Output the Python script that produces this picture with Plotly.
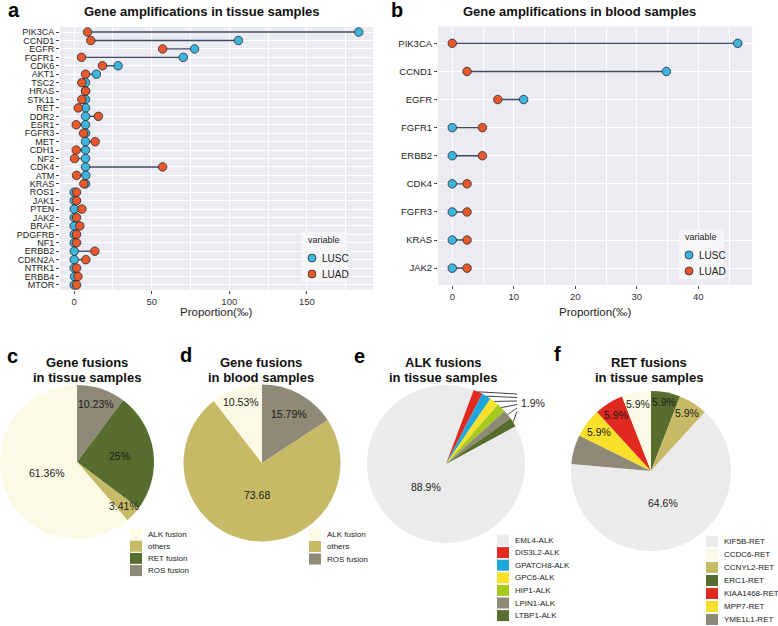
import math
import plotly.graph_objects as go

W, H = 778, 626
FONT = "Liberation Sans, Arial, sans-serif"

# ---------------- data ----------------
tissue_genes = ["PIK3CA", "CCND1", "EGFR", "FGFR1", "CDK6", "AKT1", "TSC2", "HRAS", "STK11", "RET",
                "DDR2", "ESR1", "FGFR3", "MET", "CDH1", "NF2", "CDK4", "ATM", "KRAS", "ROS1",
                "JAK1", "PTEN", "JAK2", "BRAF", "PDGFRB", "NF1", "ERBB2", "CDKN2A", "NTRK1", "ERBB4", "MTOR"]
tissue_lusc = [183.5, 105.9, 77.6, 70.3, 28.3, 14.3, 7.3, 7.3, 7.3, 7.3,
               7.3, 7.3, 7.3, 7.3, 7.3, 7.3, 7.3, 7.5, 7.3, 0.0,
               0.0, 0.0, 0.0, 0.0, 0.0, 0.0, 0.0, 0.0, 0.0, 0.2, 0.0]
tissue_luad = [8.6, 10.7, 57.0, 4.7, 18.2, 7.3, 4.9, 7.3, 4.9, 2.6,
               15.6, 1.3, 6.0, 13.5, 1.3, 0.2, 57.0, 1.5, 6.2, 1.5,
               1.5, 4.9, 1.5, 3.6, 1.5, 1.5, 13.3, 7.5, 1.5, 2.4, 1.5]

blood_genes = ["PIK3CA", "CCND1", "EGFR", "FGFR1", "ERBB2", "CDK4", "FGFR3", "KRAS", "JAK2"]
blood_lusc = [46.4, 34.8, 11.6, 0.0, 0.0, 0.0, 0.0, 0.0, 0.0]
blood_luad = [0.0, 2.4, 7.4, 4.9, 4.9, 2.4, 2.4, 2.4, 2.4]

series_names = ["LUSC", "LUAD"]

fus_tissue_labels = ["ALK fusion", "others", "RET fusion", "ROS fusion"]
fus_tissue_values = [61.36, 3.41, 25.0, 10.23]
fus_tissue_text = ["61.36%", "3.41%", "25%", "10.23%"]

fus_blood_labels = ["ALK fusion", "others", "ROS fusion"]
fus_blood_values = [10.53, 73.68, 15.79]
fus_blood_text = ["10.53%", "73.68", "15.79%"]

alk_labels = ["EML4-ALK", "DIS3L2-ALK", "GPATCH8-ALK", "GPC6-ALK", "HIP1-ALK", "LPIN1-ALK", "LTBP1-ALK"]
alk_values = [88.9, 1.9, 1.9, 1.9, 1.9, 1.9, 1.9]
alk_text = ["88.9%", "1.9%", "1.9%", "1.9%", "1.9%", "1.9%", "1.9%"]

ret_labels = ["KIF5B-RET", "CCDC6-RET", "CCNYL2-RET", "ERC1-RET", "KIAA1468-RET", "MPP7-RET", "YME1L1-RET"]
ret_values = [64.6, 5.9, 5.9, 5.9, 5.9, 5.9, 5.9]
ret_text = ["64.6%", "5.9%", "5.9%", "5.9%", "5.9%", "5.9%", ""]

# ---------------- styles ----------------
C_LUSC = "#3db5df"
C_LUAD = "#e9582c"
C_SEG = "#414b63"
PANEL_BG = "#ebebf2"

fus_colors = {"ALK fusion": "#fcfae4", "others": "#c7ba66", "RET fusion": "#566d2e", "ROS fusion": "#8f8977"}
alk_colors = {"EML4-ALK": "#ebebeb", "DIS3L2-ALK": "#e0291f", "GPATCH8-ALK": "#1ea7da",
              "GPC6-ALK": "#f8e02b", "HIP1-ALK": "#a5c91c", "LPIN1-ALK": "#8f8977", "LTBP1-ALK": "#566d2e"}
ret_colors = {"KIF5B-RET": "#ebebeb", "CCDC6-RET": "#fcfae4", "CCNYL2-RET": "#c7ba66", "ERC1-RET": "#566d2e",
              "KIAA1468-RET": "#e0291f", "MPP7-RET": "#f8e02b", "YME1L1-RET": "#8f8977"}


def px(x):
    return x / W


def py(y):
    return 1 - y / H


fig = go.Figure()
annotations = []
shapes = []


def add_text(x, y, text, size, bold=False, xanchor="center", yanchor="middle", color="#111"):
    annotations.append(dict(x=px(x), y=py(y), xref="paper", yref="paper", showarrow=False,
                            text=f"<b>{text}</b>" if bold else text, xanchor=xanchor, yanchor=yanchor,
                            font=dict(family=FONT, size=size, color=color)))


# ---------------- dumbbell panels ----------------
def dumbbell(genes, lusc, luad, xa, ya, box, ticks, minor, yfont):
    segx, segy = [], []
    for g, a, b in zip(genes, lusc, luad):
        segx += [a, b, None]
        segy += [g, g, None]
    fig.add_trace(go.Scatter(x=segx, y=segy, mode="lines", line=dict(color=C_SEG, width=1.4),
                             xaxis=xa, yaxis=ya, showlegend=False, hoverinfo="skip"))
    for name, vals, col in [("LUSC", lusc, C_LUSC), ("LUAD", luad, C_LUAD)]:
        fig.add_trace(go.Scatter(x=vals, y=genes, mode="markers", name=name, xaxis=xa, yaxis=ya,
                                 marker=dict(size=8.5, color=col, line=dict(color="#2a2a2a", width=0.8)),
                                 showlegend=False))
    allv = list(lusc) + list(luad)
    lo, hi = min(allv), max(allv)
    span = hi - lo
    x0, y0, x1, y1 = box
    axkey = "xaxis" if xa == "x" else "xaxis" + xa[1:]
    aykey = "yaxis" if ya == "y" else "yaxis" + ya[1:]
    n = len(genes)
    fig.update_layout(**{
        axkey: dict(domain=[px(x0), px(x1)], anchor=ya, range=[lo - 0.05 * span, hi + 0.05 * span],
                    tickvals=ticks, ticktext=[str(t) for t in ticks], showgrid=True, gridcolor="white",
                    gridwidth=1.3, zeroline=False, showline=False, ticks="outside", ticklen=3,
                    tickcolor="#444", tickfont=dict(family=FONT, size=9.5, color="#333"),
                    minor=dict(tickvals=minor, showgrid=True, gridcolor="white", gridwidth=0.6, ticks=""),
                    fixedrange=True),
        aykey: dict(domain=[py(y1), py(y0)], anchor=xa, type="category", categoryorder="array",
                    categoryarray=genes, range=[n - 0.4, -0.6], tickmode="array", tickvals=genes,
                    ticktext=genes, showgrid=True, gridcolor="white",
                    gridwidth=1.3, zeroline=False, showline=False, ticks="outside", ticklen=3,
                    tickcolor="#444", tickfont=dict(family=FONT, size=yfont, color="#222"), fixedrange=True),
    })


dumbbell(tissue_genes, tissue_lusc, tissue_luad, "x", "y", (60, 27, 373, 290), [0, 50, 100, 150],
         [25, 75, 125, 175], 9)
dumbbell(blood_genes, blood_lusc, blood_luad, "x2", "y2", (438, 26.5, 752, 285), [0, 10, 20, 30, 40],
         [5, 15, 25, 35, 45], 9.5)

# axis titles
add_text(216, 312, "Proportion(‰)", 11.5, color="#222")
add_text(595, 312, "Proportion(‰)", 11.5, color="#222")
# titles
add_text(202, 11.5, "Gene amplifications in tissue samples", 13, bold=True)
add_text(579, 11.5, "Gene amplifications in blood samples", 13, bold=True)


def point_legend(x, y):
    shapes.append(dict(type="rect", xref="paper", yref="paper", x0=px(x), x1=px(x + 45), y0=py(y + 50),
                       y1=py(y), fillcolor="#f6f6f9", line=dict(width=0), layer="above"))
    add_text(x + 4, y + 8, "variable", 9, xanchor="left", color="#222")
    for i, (name, col) in enumerate(zip(series_names, [C_LUSC, C_LUAD])):
        cy = y + 26 + 16 * i
        cx = x + 10
        shapes.append(dict(type="circle", xref="paper", yref="paper", x0=px(cx - 4), x1=px(cx + 4),
                           y0=py(cy + 4), y1=py(cy - 4), fillcolor=col, line=dict(color="#2a2a2a", width=0.8),
                           layer="above"))
        add_text(cx + 8, cy, name, 10, xanchor="left", color="#222")


point_legend(302, 232)
point_legend(679, 229)


# ---------------- pies ----------------
def pie(labels, values, colors, slice_order, rotation, cx, cy, r, texts, fracs, skip=()):
    order_vals = [values[labels.index(l)] for l in slice_order]
    fig.add_trace(go.Pie(labels=slice_order, values=order_vals, sort=False, direction="clockwise",
                         rotation=rotation, textinfo="none", showlegend=False,
                         marker=dict(colors=[colors[l] for l in slice_order], line=dict(width=0)),
                         domain=dict(x=[px(cx - r), px(cx + r)], y=[py(cy + r), py(cy - r)])))
    total = sum(values)
    ang = rotation
    mids = {}
    for l, v in zip(slice_order, order_vals):
        a = v / total * 360
        mids[l] = (ang, ang + a)
        ang += a
    for l, t, f in zip(labels, texts, fracs):
        if not t or l in skip:
            continue
        m = math.radians(sum(mids[l]) / 2)
        add_text(cx + f * r * math.sin(m), cy - f * r * math.cos(m), t, 10.5, color="#1a1a1a")
    return mids


def box_legend(labels, colors, x, y, step):
    for i, l in enumerate(labels):
        yc = y + i * step
        shapes.append(dict(type="rect", xref="paper", yref="paper", x0=px(x), x1=px(x + 12),
                           y0=py(yc + 5.5), y1=py(yc - 5.5), fillcolor=colors[l], line=dict(width=0)))
        add_text(x + 16, yc, l, 8, xanchor="left", color="#222")


# c
pie(fus_tissue_labels, fus_tissue_values, fus_colors, ["ROS fusion", "RET fusion", "others", "ALK fusion"], 0,
    77, 462, 77, fus_tissue_text, [0.42, 0.83, 0.56, 0.79])
box_legend(fus_tissue_labels, fus_colors, 130, 534, 12.2)
# d
pie(fus_blood_labels, fus_blood_values, fus_colors, ["ROS fusion", "others", "ALK fusion"], 0,
    262, 463, 78.5, fus_blood_text, [0.82, 0.41, 0.71])
box_legend(fus_blood_labels, fus_colors, 309, 534, 12.5)
# e
e_cx, e_cy, e_r = 446, 464, 79
mids_e = pie(alk_labels, alk_values, alk_colors, alk_labels, 61.5, e_cx, e_cy, e_r, alk_text,
             [0.38] + [None] * 6, skip=alk_labels[1:])
for i, l in enumerate(alk_labels[1:]):
    m = math.radians(sum(mids_e[l]) / 2)
    shapes.append(dict(type="line", xref="paper", yref="paper",
                       x0=px(e_cx + e_r * math.sin(m)), y0=py(e_cy - e_r * math.cos(m)),
                       x1=px(517), y1=py(394 + 3.5 * i), line=dict(color="#111", width=0.8)))
add_text(533, 403, alk_text[1], 10.5, color="#1a1a1a")
box_legend(alk_labels, alk_colors, 497, 540, 12.6)
# f
pie(ret_labels, ret_values, ret_colors,
    ["ERC1-RET", "CCNYL2-RET", "KIF5B-RET", "YME1L1-RET", "MPP7-RET", "KIAA1468-RET", "CCDC6-RET"], 0,
    651, 471, 80, ret_text, [0.43, 0.85, 0.86, 0.88, 0.83, 0.81, 0.85])
box_legend(ret_labels, ret_colors, 706, 541.5, 13)

# pie titles
for cx, l1, l2 in [(87, "Gene fusions", "in tissue samples"), (261, "Gene fusions", "in blood samples"),
                   (443, "ALK fusions", "in tissue samples"), (649, "RET fusions", "in tissue samples")]:
    add_text(cx, 362, l1, 13, bold=True)
    add_text(cx, 377, l2, 13, bold=True)

# panel letters
for (x, y, t) in [(13.5, 10, "a"), (397, 9.5, "b"), (13, 356, "c"), (186, 355, "d"), (359, 356, "e"), (557, 354, "f")]:
    add_text(x, y, t, 20, bold=True, color="#000")

fig.update_layout(width=W, height=H, margin=dict(l=0, r=0, t=0, b=0), paper_bgcolor="white",
                  plot_bgcolor=PANEL_BG, showlegend=False, annotations=annotations, shapes=shapes,
                  font=dict(family=FONT))
fig.write_html("out.html", config={"displayModeBar": False},
               post_script="document.body.style.margin='0px';")
